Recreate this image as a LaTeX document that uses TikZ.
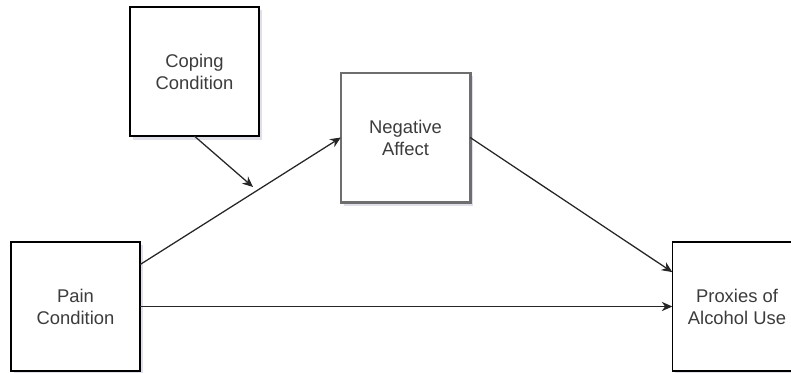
\documentclass[tikz,border=0pt]{standalone}
\usepackage{fontspec}
\setmainfont{Liberation Sans}
\usetikzlibrary{arrows.meta,shadows}
\definecolor{txtgray}{RGB}{60,60,60}
\definecolor{edgegray}{RGB}{110,110,110}
\definecolor{shadowc}{RGB}{150,150,185}
\tikzset{
  box/.style={draw=black, line width=1.1pt, fill=white, minimum width=97pt, minimum height=97pt,
    inner sep=0pt, outer sep=0pt, align=center, text=txtgray,
    font=\fontsize{13.8pt}{16.5pt}\selectfont,
    drop shadow={shadow xshift=2pt, shadow yshift=-2.5pt, opacity=0.3, fill=shadowc}},
  graybox/.style={box, draw=edgegray, line width=2pt},
  conn/.style={line width=0.95pt, draw=black!85, -{Stealth[length=8pt,width=7pt]}}
}
\begin{document}
\begin{tikzpicture}[x=0.75pt,y=-0.75pt]
\useasboundingbox (0,0) rectangle (791,372);
\node[box] (coping) at (194.5,71.5) {Coping\\Condition};
\node[graybox] (neg) at (405.5,137.5) {Negative\\Affect};
\node[box] (pain) at (75.5,306.5) {Pain\\Condition};
\node[box] (prox) at (737,306.5) {Proxies of\\Alcohol Use};
\coordinate (mod) at (253,187);
\draw[conn] (pain.33) -- (neg.west);
\draw[conn] (coping.south) -- (mod);
\draw[conn] (neg.east) -- (prox.152);
\draw[conn] (pain.east) -- (prox.west);
\end{tikzpicture}
\end{document}
